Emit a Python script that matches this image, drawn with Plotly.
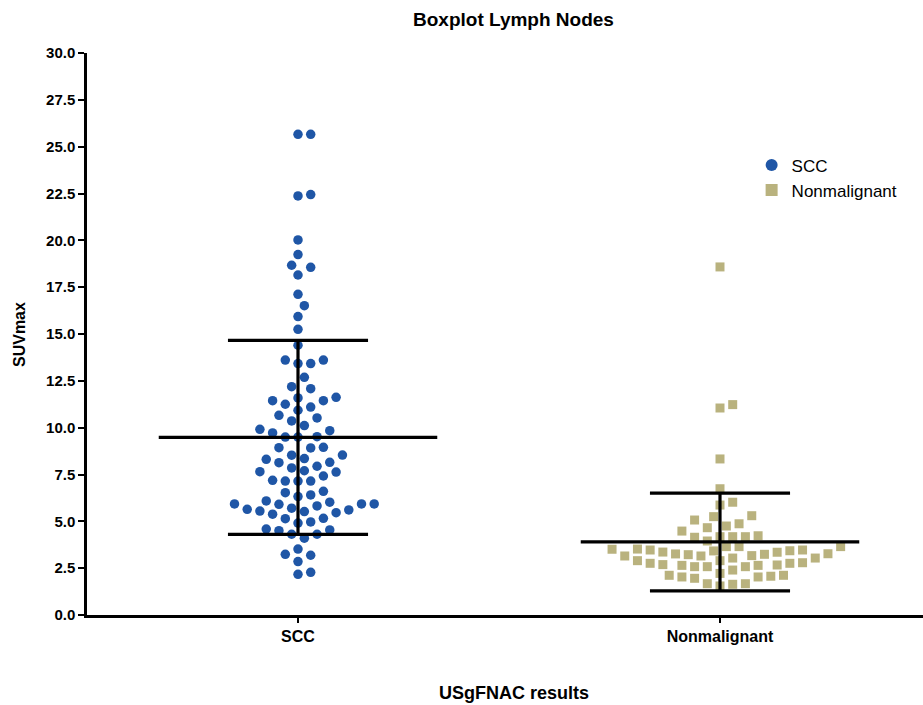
import math
import plotly.graph_objects as go

# ---------------- data ----------------
categories = ["SCC", "Nonmalignant"]

scc_values = [
    25.66, 25.66, 22.37, 22.44, 20.02, 19.24, 18.56, 18.67, 18.15, 17.12,
    16.51, 15.93, 15.25, 14.40, 13.61, 13.42, 13.42, 13.61, 12.69, 12.08,
    12.19, 11.62, 11.44, 11.25, 11.10, 10.93, 11.44, 11.59, 10.66, 10.36,
    10.52, 9.91, 9.72, 9.50, 9.50, 9.52, 9.84, 10.11, 8.95, 8.92,
    8.93, 8.53, 8.54, 8.35, 8.15, 7.94, 7.85, 8.13, 8.31, 7.65,
    7.42, 7.63, 7.70, 7.15, 7.15, 7.15, 7.19, 6.53, 6.41, 6.60,
    6.32, 6.02, 5.93, 5.91, 5.55, 5.46, 5.70, 5.61, 5.64, 5.82,
    5.93, 5.93, 6.09, 5.38, 5.52, 5.14, 5.16, 4.97, 4.91, 4.54,
    4.31, 4.10, 4.31, 4.50, 4.59, 3.24, 2.85, 3.19, 3.52, 2.17,
    2.28,
]

nonmalignant_values = [
    18.58, 11.05, 11.23, 8.33, 6.74, 6.02, 5.87, 5.30, 5.07, 5.25,
    4.75, 4.66, 4.87, 4.48, 4.18, 4.18, 3.95, 4.15, 4.18, 4.23,
    3.65, 3.65, 3.65, 3.52, 3.47, 3.43, 3.36, 3.27, 3.24, 3.17,
    3.15, 3.04, 2.90, 2.90, 3.04, 3.15, 3.22, 3.26, 3.35, 3.42,
    3.47, 3.51, 2.79, 2.76, 2.65, 2.65, 2.58, 2.40, 2.58, 2.58,
    2.67, 2.69, 2.76, 2.22, 2.12, 2.03, 1.96, 2.03, 2.07, 2.12,
    1.67, 1.55, 1.64, 1.67,
]

group_means = [9.48, 3.90]
group_sds = [5.18, 2.61]

y_ticks = [0.0, 2.5, 5.0, 7.5, 10.0, 12.5, 15.0, 17.5, 20.0, 22.5, 25.0, 27.5, 30.0]

# ---------------- layout geometry ----------------
W, H = 923, 705
M_L, M_R, M_T, M_B = 87, 0, 53, 90
PLOT_W = W - M_L - M_R
PLOT_H = H - M_T - M_B
Y_RANGE = [0, 30]
PX_PER_X = 422.0
X_RANGE = [-0.5, -0.5 + PLOT_W / PX_PER_X]
PX_PER_Y = PLOT_H / (Y_RANGE[1] - Y_RANGE[0])

FONT = "Liberation Sans, Arial, sans-serif"
BLUE = "#1F56A6"
KHAKI = "#B9B27E"


def swarm_offsets(vals, step=6.35, min_dist=11.6):
    """Greedy beeswarm on a half-symbol grid: returns horizontal pixel offsets."""
    order = sorted(range(len(vals)), key=lambda i: vals[i])
    placed = []
    offs = [0.0] * len(vals)
    cands = [0]
    for k in range(1, 40):
        cands += [k, -k]
    for i in order:
        y = vals[i] * PX_PER_Y
        x = 0.0
        for k in cands:
            x = k * step
            if all(math.hypot(x - px, y - py) >= min_dist for (px, py) in placed):
                break
        placed.append((x, y))
        offs[i] = x
    return offs


fig = go.Figure()

groups = [
    (scc_values, "circle", BLUE, 9.5, categories[0]),
    (nonmalignant_values, "square", KHAKI, 9, categories[1]),
]

for gi, (vals, sym, col, size, name) in enumerate(groups):
    offs = swarm_offsets(vals)
    xs = [gi + o / PX_PER_X for o in offs]
    fig.add_trace(go.Scatter(
        x=xs, y=vals, mode="markers", name=name, legendgroup=name,
        marker=dict(symbol=sym, color=col, size=size, line=dict(width=0)),
        hoverinfo="y",
    ))

# mean and SD lines
for gi in range(len(categories)):
    m, s = group_means[gi], group_sds[gi]
    lw = 0.33
    cw = 0.166
    xs = [gi - lw, gi + lw, None, gi - cw, gi + cw, None, gi - cw, gi + cw, None, gi, gi]
    ys = [m, m, None, m + s, m + s, None, m - s, m - s, None, m - s, m + s]
    fig.add_trace(go.Scatter(
        x=xs, y=ys, mode="lines", showlegend=False, hoverinfo="skip",
        line=dict(color="black", width=3.2),
    ))

fig.update_layout(
    width=W, height=H,
    margin=dict(l=M_L, r=M_R, t=M_T, b=M_B, pad=0),
    paper_bgcolor="white", plot_bgcolor="white",
    font=dict(family=FONT, color="black"),
    showlegend=True,
    legend=dict(
        x=0.795, y=0.832, xanchor="left", yanchor="top",
        bgcolor="rgba(0,0,0,0)", font=dict(size=17, family=FONT),
        itemsizing="constant", traceorder="grouped", tracegroupgap=0,
    ),
    annotations=[
        dict(text="<b>Boxplot Lymph Nodes</b>", xref="paper", yref="paper",
             x=(513 - M_L) / PLOT_W, y=1 + (M_T - 20) / PLOT_H,
             xanchor="center", yanchor="middle", showarrow=False,
             font=dict(size=19, family=FONT)),
        dict(text="<b>USgFNAC results</b>", xref="paper", yref="paper",
             x=(514 - M_L) / PLOT_W, y=-(693 - M_T - PLOT_H) / PLOT_H,
             xanchor="center", yanchor="middle", showarrow=False,
             font=dict(size=18, family=FONT)),
        dict(text="<b>SUVmax</b>", xref="paper", yref="paper",
             x=-(M_L - 19) / PLOT_W, y=(615 - 335) / PLOT_H,
             xanchor="center", yanchor="middle", showarrow=False, textangle=-90,
             font=dict(size=16, family=FONT)),
    ],
)

fig.update_xaxes(
    range=X_RANGE, tickmode="array", tickvals=[0, 1], ticktext=categories,
    showline=True, linecolor="black", linewidth=2.5, mirror=False,
    ticks="outside", ticklen=5, tickwidth=2, tickcolor="black",
    showgrid=False, zeroline=False,
    tickfont=dict(size=16, family=FONT, weight="bold"),
)
fig.update_yaxes(
    range=Y_RANGE, tickmode="array", tickvals=y_ticks,
    ticktext=[f"{v:.1f}" for v in y_ticks],
    showline=True, linecolor="black", linewidth=2.5, mirror=False,
    ticks="outside", ticklen=6, tickwidth=2, tickcolor="black",
    showgrid=False, zeroline=False, ticklabelstandoff=0,
    tickfont=dict(size=15, family=FONT, weight="bold"),
)

fig.write_html("out.html")
